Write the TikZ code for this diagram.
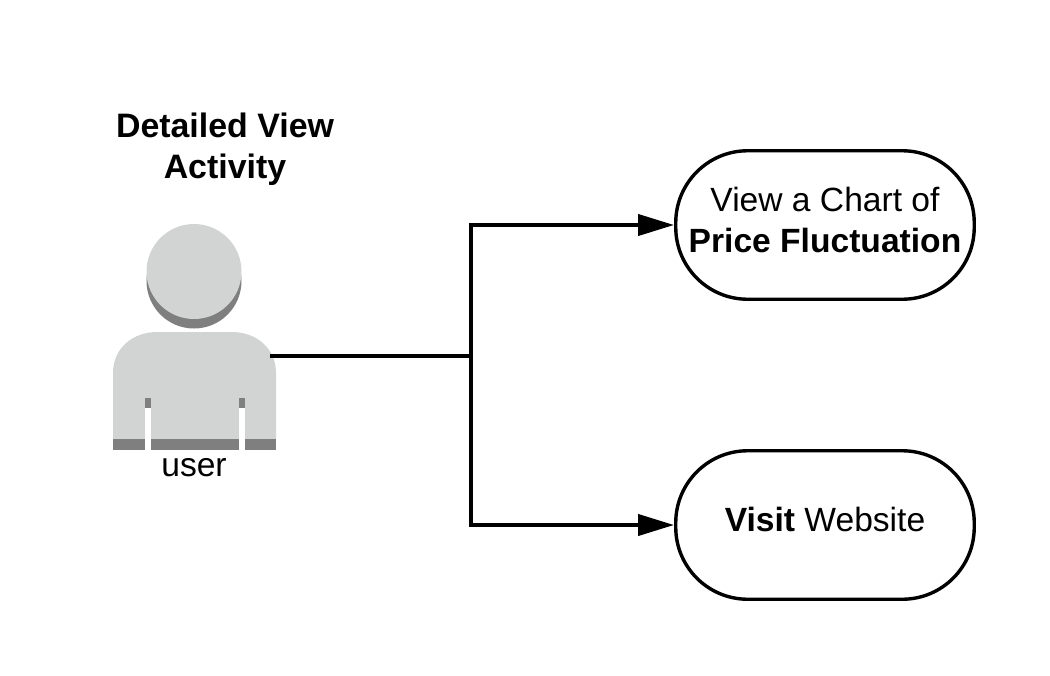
\documentclass[tikz,border=0pt]{standalone}
\usepackage{fontspec}
\setmainfont{Liberation Sans}
\usetikzlibrary{arrows.meta}
\definecolor{bodygray}{HTML}{D2D4D4}
\definecolor{shadegray}{HTML}{7F7F7F}
\newcommand{\liftstrut}{\rule[-11pt]{0pt}{11pt}}
\tikzset{
	usecase/.style={draw,line width=3.4pt,rounded corners=72pt,minimum width=298.5pt,minimum height=148.5pt,align=center,font=\fontsize{33.6}{41}\selectfont},
	title/.style={align=center,font=\fontsize{33.9}{41}\selectfont\bfseries},
	link/.style={line width=4pt},
	linkarrow/.style={link,-{Triangle[length=36pt,width=21pt]}}
}
\begin{document}
\begin{tikzpicture}[x=1pt,y=-1pt]
\useasboundingbox (0,0) rectangle (1050,675);
\node[title] (activity) at (225,149) {Detailed View\\Activity};
 \begin{scope}
	%head
	\fill[shadegray] (194,281) circle (47.5);
	\fill[bodygray] (194,271.5) circle (47.5);
	%body
	\fill[bodygray] (113,439)--(113,373) .. controls (113,348) and (133,332) .. (157,332)--(232,332) .. controls (256,332) and (276,348) .. (276,373)--(276,439)--cycle;
	\fill[shadegray] (113,439) rectangle (276,449.5);
	%arms
	\fill[shadegray] (145,398) rectangle (150.5,408);
	\fill[shadegray] (239,398) rectangle (244.5,408);
	\fill[white] (145,408) rectangle (150.5,450);
	\fill[white] (239,408) rectangle (244.5,450);
	\end{scope}
\node[font=\fontsize{33.6}{40}\selectfont] (user) at (194,468) {user};
\node[usecase] (chart) at (825,225) {View a Chart of\\\textbf{Price Fluctuation}\liftstrut};
\node[usecase] (site) at (825,525) {\textbf{Visit} Website\liftstrut};
\coordinate (userout) at (270,355.5);
\coordinate (branch) at (471,355.5);
\draw[link] (userout)--(branch);
\draw[linkarrow] (branch) |- (chart);
\draw[linkarrow] (branch) |- (site);
\end{tikzpicture}
\end{document}
